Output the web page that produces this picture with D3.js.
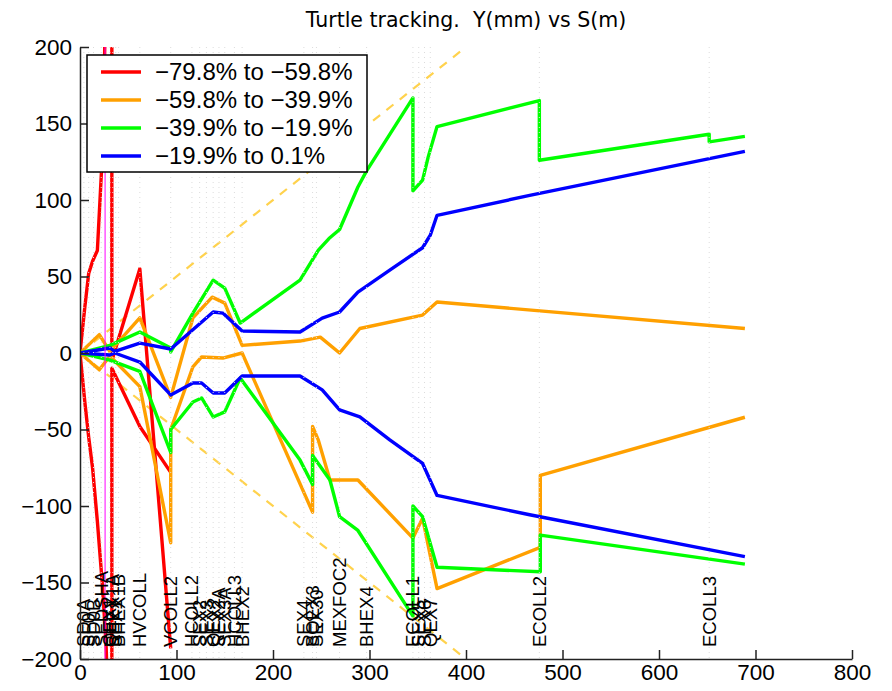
<!DOCTYPE html>
<html><head><meta charset="utf-8">
<script src="https://cdn.jsdelivr.net/npm/d3@7"></script>
<style>body{margin:0;background:#fff;} svg{display:block;}</style>
</head><body>
<svg id="chart" width="892" height="691"></svg>
<script>
const title = "Turtle tracking.  Y(mm) vs S(m)";
const xTicks = [0,100,200,300,400,500,600,700,800];
const yTicks = [-200,-150,-100,-50,0,50,100,150,200];
const legendLabels = ["\u221279.8% to \u221259.8%","\u221259.8% to \u221239.9%","\u221239.9% to \u221219.9%","\u221219.9% to 0.1%"];
const seriesColors = ["#ff0000","#ffa000","#00ff00","#0000ff"];

// element markers (S in m)
const elemNames = ["SD0A","SF0","SD0B","SEDSHA","QEX1","BHEX1A","SEX1","BHEX1B","HVCOLL","VCOLL2","HCOLL2","SEX2","SEX3","QEX2","SEX2A","SEX3A","HCOLL3","BHEX2","SEX4","BQEX3","SEX30","MEXFOC2","BHEX4","ECOLL1","SEX5","SEX6","QEX7","ECOLL2","ECOLL3"];
const elemS =     [4,9,14,22,31,34,37,40,62,94,116,124,131,138,144,150,160,168,232,241,245,269,297,345,351,357,363,476,652];

// envelopes: [S, Y] per series, upper and lower
const redUpper = [[0,0],[5,30],[9,52],[13,60],[18,67],[24,140],[27,250],[33,260],[33,-5],[62,55],[94,-193]];
const redLower = [[0,0],[5,-32],[9,-55],[13,-75],[18,-110],[23,-150],[27,-190],[30,-250],[33,-250],[33,-10],[62,-48],[94,-78]];
const orangeUpper = [[0,0],[20,12],[31,1],[62,23],[94,-29],[117,23],[137,36.5],[150,32.6],[168,5],[228,7.8],[249,10.4],[269,0],[290,16],[355,24.8],[370,33.3],[689,16]];
const orangeLower = [[0,0],[20,-11],[31,-2],[62,-22],[94,-124],[94,-50],[117,-9],[126,-2.6],[148,-3.3],[168,0],[241,-104],[241,-48],[247,-57],[259,-83],[288,-83],[345,-121],[355,-108],[370,-154],[477,-127],[477,-80],[689,-42]];
const greenUpper = [[0,0],[31,5],[62,13.7],[94,3.3],[94,0.7],[117,26],[138,47.6],[150,42.4],[166,19.6],[228,47.6],[247,67.2],[258,74.8],[269,80.7],[288,108.5],[297,119],[345,166.7],[345,106],[355,113],[361,128.5],[370,148],[476,165],[476,126],[652,143],[652,138],[689,141.6]];
const greenLower = [[0,0],[31,-4.6],[62,-12],[94,-65],[94,-50],[117,-32],[126,-29.4],[138,-41.8],[150,-38.5],[166,-16.3],[228,-70],[241,-86],[241,-67],[259,-83],[269,-107],[288,-116],[345,-172],[345,-100],[355,-107],[370,-140],[477,-143],[477,-119],[689,-138]];
const blueUpper = [[0,0],[31,3.3],[36,1],[62,6.5],[94,2.6],[119,16.3],[138,26.8],[148,26.1],[168,14.4],[228,13.7],[251,22.8],[269,26.8],[288,39.8],[321,54.2],[355,68.8],[363,77],[370,90],[466,103],[689,131.8]];
const blueLower = [[0,0],[31,-1.3],[36,0],[62,-5.9],[94,-27.4],[117,-19.6],[126,-19.6],[138,-26.1],[150,-26.1],[168,-15],[228,-15],[251,-24.1],[269,-37.2],[290,-41.8],[321,-56.8],[355,-72.2],[370,-93.1],[466,-105.7],[689,-133.1]];
const apertureS = [0,400];
const apertureSlope = 0.5;
const markerS = 26;

const svg = d3.select("#chart");
const M = {l:80, r:852, t:47, b:659};
const x = d3.scaleLinear().domain([0,800]).range([M.l, M.r]);
const y = d3.scaleLinear().domain([-200,200]).range([M.b, M.t]);

const defs = svg.append("defs");
defs.append("clipPath").attr("id","clip").append("rect")
  .attr("x",M.l).attr("y",M.t).attr("width",M.r-M.l).attr("height",M.b-M.t);

const plot = svg.append("g").attr("clip-path","url(#clip)");
const line = d3.line().x(d=>x(d[0])).y(d=>y(d[1]));

// aperture dashed lines
[1,-1].forEach(sg=>{
  plot.append("path").datum(apertureS.map(s=>[s, sg*apertureSlope*s]))
    .attr("d", line).attr("fill","none").attr("stroke","#ffd24d")
    .attr("stroke-width",2.2).attr("stroke-dasharray","9,8");
});

const series = [[redUpper,redLower],[orangeUpper,orangeLower],[greenUpper,greenLower],[blueUpper,blueLower]];
series.forEach((pair,i)=>{
  pair.forEach(arr=>{
    plot.append("path").datum(arr).attr("d",line).attr("fill","none")
      .attr("stroke",seriesColors[i]).attr("stroke-width",3.4).attr("stroke-linejoin","round");
  });
});

// element grid lines (dotted, on top)
elemS.forEach(s=>{
  plot.append("line").attr("x1",x(s)).attr("x2",x(s)).attr("y1",M.t).attr("y2",M.b)
    .attr("stroke","#dcdcdc").attr("stroke-width",1).attr("stroke-dasharray","1,4");
});
// marker line
plot.append("line").attr("x1",x(markerS)).attr("x2",x(markerS)).attr("y1",M.t).attr("y2",M.b)
  .attr("stroke","#ff00ff").attr("stroke-width",1);

// element labels
svg.append("g").selectAll("text").data(elemNames).join("text")
  .attr("transform",(d,i)=>`translate(${x(elemS[i])},647) rotate(-90)`)
  .attr("dy","0.35em").attr("font-family","Liberation Sans, Arial, sans-serif")
  .attr("font-size",18.5).attr("fill","#000").text(d=>d);

// axes
const xAxis = d3.axisBottom(x).tickValues(xTicks).tickSizeInner(-9).tickSizeOuter(0).tickPadding(5);
const yAxis = d3.axisLeft(y).tickValues(yTicks).tickSizeInner(-9).tickSizeOuter(0).tickPadding(8)
  .tickFormat(d=> d<0 ? "\u2212"+Math.abs(d) : d);
const gx = svg.append("g").attr("transform",`translate(0,${M.b})`).call(xAxis);
const gy = svg.append("g").attr("transform",`translate(${M.l},0)`).call(yAxis);
[gx,gy].forEach(g=>{
  g.selectAll("path,line").attr("stroke","#222").attr("stroke-width",1.5);
  g.selectAll("text").attr("font-family","Liberation Sans, Arial, sans-serif").attr("font-size",22.5).attr("fill","#000");
});

// title
svg.append("text").attr("x",466).attr("y",27).attr("text-anchor","middle")
  .style("white-space","pre")
  .attr("font-family","DejaVu Sans, sans-serif").attr("font-size",20.5).text(title);

// legend
const lg = svg.append("g");
lg.append("rect").attr("x",87).attr("y",55).attr("width",280).attr("height",117)
  .attr("fill","#fff").attr("stroke","#000").attr("stroke-width",1.5);
legendLabels.forEach((t,i)=>{
  const yy = 72 + i*28;
  lg.append("line").attr("x1",101).attr("x2",141).attr("y1",yy).attr("y2",yy)
    .attr("stroke",seriesColors[i]).attr("stroke-width",3.4);
  lg.append("text").attr("x",155).attr("y",yy).attr("dy","0.35em")
    .attr("font-family","Liberation Sans, Arial, sans-serif").attr("font-size",24).text(t);
});
</script>
</body></html>
